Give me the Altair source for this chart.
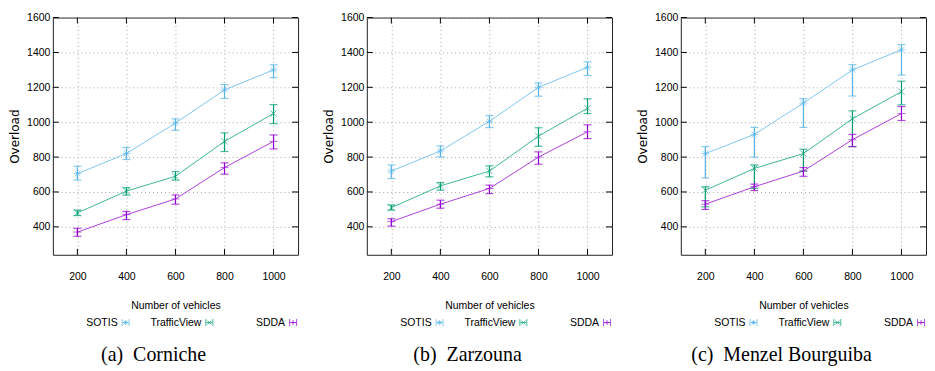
import altair as alt
import pandas as pd

x_vals = [200, 400, 600, 800, 1000]
y_ticks = [400, 600, 800, 1000, 1200, 1400, 1600]
series = ["SOTIS", "TrafficView", "SDDA"]
colors = ["#56b4e9", "#009e73", "#9400d3"]
captions = ["(a)\u00a0\u00a0Corniche", "(b)\u00a0\u00a0Zarzouna", "(c)\u00a0\u00a0Menzel Bourguiba"]

# (a) Corniche
a_sotis = [705, 820, 995, 1185, 1300]
a_sotis_lo = [668, 786, 954, 1136, 1256]
a_sotis_hi = [748, 855, 1019, 1216, 1329]
a_tv = [480, 605, 690, 890, 1050]
a_tv_lo = [465, 582, 668, 832, 992]
a_tv_hi = [496, 625, 717, 939, 1101]
a_sdda = [370, 470, 560, 740, 890]
a_sdda_lo = [346, 442, 530, 702, 847]
a_sdda_hi = [392, 488, 583, 767, 927]

# (b) Zarzouna
b_sotis = [720, 835, 1005, 1200, 1315]
b_sotis_lo = [677, 801, 969, 1149, 1268]
b_sotis_hi = [755, 864, 1038, 1225, 1346]
b_tv = [510, 635, 720, 920, 1080]
b_tv_lo = [496, 610, 687, 862, 1050]
b_tv_hi = [526, 654, 750, 968, 1134]
b_sdda = [430, 530, 620, 800, 945]
b_sdda_lo = [404, 507, 591, 759, 906]
b_sdda_hi = [446, 553, 639, 830, 985]

# (c) Menzel Bourguiba
c_sotis = [820, 930, 1110, 1300, 1415]
c_sotis_lo = [680, 800, 970, 1150, 1270]
c_sotis_hi = [860, 970, 1135, 1330, 1445]
c_tv = [610, 735, 820, 1020, 1175]
c_tv_lo = [515, 620, 720, 860, 1100]
c_tv_hi = [630, 755, 845, 1065, 1235]
c_sdda = [530, 630, 720, 900, 1050]
c_sdda_lo = [500, 608, 690, 860, 1010]
c_sdda_hi = [550, 645, 740, 930, 1090]

panels = [
    [(a_sotis, a_sotis_lo, a_sotis_hi), (a_tv, a_tv_lo, a_tv_hi), (a_sdda, a_sdda_lo, a_sdda_hi)],
    [(b_sotis, b_sotis_lo, b_sotis_hi), (b_tv, b_tv_lo, b_tv_hi), (b_sdda, b_sdda_lo, b_sdda_hi)],
    [(c_sotis, c_sotis_lo, c_sotis_hi), (c_tv, c_tv_lo, c_tv_hi), (c_sdda, c_sdda_lo, c_sdda_hi)],
]

W, H = 246, 238
NARROW = "Liberation Sans"
LFS = 10.5

STAR = "M-1,0L1,0M0,-1L0,1M-0.7,-0.7L0.7,0.7M-0.7,0.7L0.7,-0.7"
XSH = "M-0.8,-0.8L0.8,0.8M-0.8,0.8L0.8,-0.8"
PLUS = "M-1,0L1,0M0,-1L0,1"
ERRKEY = "M-1,-1L-1,1M1,-1L1,1M-1,0L1,0"

xscale = alt.Scale(domain=[100, 1100], nice=False, zero=False)
yscale = alt.Scale(domain=[240, 1600], nice=False, zero=False)
cscale = alt.Scale(domain=series, range=colors)
sscale = alt.Scale(domain=series, range=[STAR, XSH, PLUS])

axis_x = alt.Axis(values=x_vals, format="d", grid=True, gridDash=[1, 3], gridColor="#aaaaaa",
                  ticks=False, domain=False, labelFont=NARROW, labelFontSize=LFS,
                  labelColor="black", labelPadding=17, labelOverlap=False,
                  titleFont=NARROW, titleFontSize=LFS, titleFontWeight="normal",
                  titleColor="black", titlePadding=18)
axis_y = alt.Axis(values=y_ticks, format="d", grid=True, gridDash=[1, 3], gridColor="#aaaaaa",
                  ticks=False, domain=False, labelFont=NARROW, labelFontSize=LFS,
                  labelColor="black", labelPadding=3, labelOverlap=False,
                  titleFont="DejaVu Sans", titleFontSize=12, titleFontWeight="normal",
                  titleColor="black", titlePadding=5)


def X(field):
    return alt.X(f"{field}:Q", scale=xscale, axis=axis_x, title="Number of vehicles")


def Y(field):
    return alt.Y(f"{field}:Q", scale=yscale, axis=axis_y, title="Overload")


def make_panel(pdata, caption):
    rows = []
    for name, (vals, lo, hi) in zip(series, pdata):
        for xv, v, l, h in zip(x_vals, vals, lo, hi):
            rows.append({"x": xv, "series": name, "y": v, "lo": l, "hi": h})
    df = pd.DataFrame(rows)
    color = alt.Color("series:N", scale=cscale, legend=None)
    base = alt.Chart(df)
    lines = base.mark_line(strokeWidth=1, opacity=0.75).encode(
        x=X("x"), y=Y("y"), color=color, detail="series:N", order="x:Q")
    bars = base.mark_rule(strokeWidth=1.2).encode(x=X("x"), y=Y("lo"), y2="hi:Q", color=color)
    cap_lo = base.mark_tick(orient="horizontal", size=8, thickness=1.2).encode(
        x=X("x"), y=Y("lo"), color=color)
    cap_hi = base.mark_tick(orient="horizontal", size=8, thickness=1.2).encode(
        x=X("x"), y=Y("hi"), color=color)
    pts = base.mark_point(filled=False, strokeWidth=1, size=64, opacity=0.6).encode(
        x=X("x"), y=Y("y"), color=color,
        shape=alt.Shape("series:N", scale=sscale, legend=None))

    yt = alt.Chart(pd.DataFrame({"y": y_ticks}))
    xt = alt.Chart(pd.DataFrame({"x": x_vals}))
    t_left = yt.mark_rule(color="black", strokeWidth=1).encode(y=Y("y"), x=alt.value(0), x2=alt.value(6))
    t_right = yt.mark_rule(color="black", strokeWidth=1).encode(y=Y("y"), x=alt.value(W - 6), x2=alt.value(W))
    t_bot = xt.mark_rule(color="black", strokeWidth=1).encode(x=X("x"), y=alt.value(H - 6), y2=alt.value(H))
    t_top = xt.mark_rule(color="black", strokeWidth=1).encode(x=X("x"), y=alt.value(0), y2=alt.value(6))

    plot = alt.layer(t_left, t_right, t_bot, t_top, lines, bars, cap_lo, cap_hi, pts).properties(
        width=W, height=H)

    leg_df = pd.DataFrame({"series": series})
    lx = alt.X("series:N", scale=alt.Scale(type="point", domain=series, range=[65, 233], padding=0), axis=None)
    leg_base = alt.Chart(leg_df)
    leg_text = leg_base.mark_text(align="right", baseline="middle", font=NARROW, fontSize=LFS,
                                  color="black").encode(x=lx, y=alt.value(6), text="series:N")
    leg_err = leg_base.mark_point(shape=ERRKEY, filled=False, size=49, strokeWidth=1, xOffset=8).encode(
        x=lx, y=alt.value(6), color=alt.Color("series:N", scale=cscale, legend=None))
    leg_pt = leg_base.mark_point(filled=False, size=25, strokeWidth=1, xOffset=8, opacity=0.7).encode(
        x=lx, y=alt.value(6), color=alt.Color("series:N", scale=cscale, legend=None),
        shape=alt.Shape("series:N", scale=sscale, legend=None))
    legend = alt.layer(leg_text, leg_err, leg_pt).properties(
        width=W, height=12, view=alt.ViewBackground(stroke="transparent"))

    return alt.vconcat(plot, legend, spacing=4).properties(
        title=alt.TitleParams(caption, orient="bottom", anchor="middle", font="Liberation Serif",
                              fontSize=20, fontWeight="normal", color="black", offset=16))


chart = alt.hconcat(*[make_panel(p, c) for p, c in zip(panels, captions)], spacing=23).properties(
    padding={"left": 0, "top": 3, "right": 0, "bottom": 0}
).configure_view(stroke="#222222", strokeWidth=1)

chart.save("out.html", embed_options={"renderer": "svg", "actions": False})
